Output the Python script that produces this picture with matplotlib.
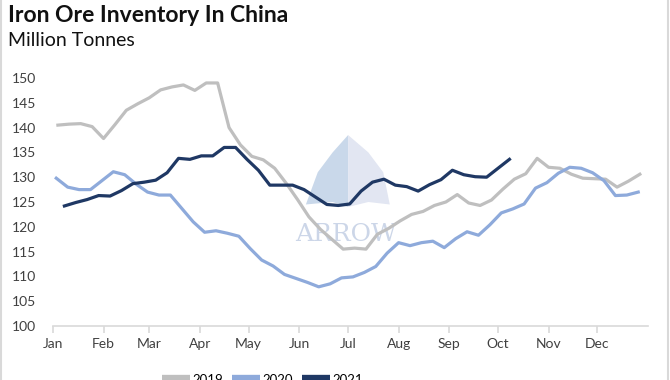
import numpy as np
import pandas as pd
import matplotlib
matplotlib.use("Agg")
import matplotlib.pyplot as plt
from matplotlib.patches import Polygon

plt.rcParams['font.family'] = ['Lato', 'DejaVu Sans']

# Weekly inventory (million tonnes)
inv_2019 = [140.5, 140.7, 140.8, 140.2, 137.8, 140.6, 143.5, 144.8, 146.0, 147.6,
            148.2, 148.6, 147.5, 149.0, 149.0, 140.0, 136.5, 134.2, 133.5, 131.8,
            128.8, 125.5, 122.0, 119.5, 117.5, 115.5, 115.7, 115.5, 118.5, 119.7,
            121.2, 122.5, 123.1, 124.3, 125.0, 126.5, 124.8, 124.3, 125.4, 127.6,
            129.6, 130.7, 133.8, 132.0, 131.8, 130.6, 129.8, 129.7, 129.6, 128.0,
            129.2, 130.6]
inv_2020 = [129.8, 128.0, 127.5, 127.5, 129.3, 131.1, 130.5, 128.6, 127.0, 126.4,
            126.4, 123.7, 121.0, 118.9, 119.2, 118.7, 118.1, 115.6, 113.3, 112.1,
            110.4, 109.6, 108.8, 107.9, 108.5, 109.7, 109.9, 110.8, 112.0, 114.7,
            116.8, 116.2, 116.8, 117.1, 115.8, 117.6, 119.0, 118.3, 120.4, 122.8,
            123.6, 124.6, 127.8, 128.9, 130.8, 132.0, 131.8, 130.9, 129.3, 126.3,
            126.4, 127.0]
inv_2021 = [124.2, 124.9, 125.5, 126.3, 126.2, 127.3, 128.7, 129.0, 129.4, 130.9,
            133.8, 133.6, 134.3, 134.3, 136.0, 136.0, 133.6, 131.4, 128.4, 128.4,
            128.4, 127.5, 126.0, 124.5, 124.3, 124.6, 127.2, 129.0, 129.6, 128.4,
            128.1, 127.2, 128.5, 129.5, 131.4, 130.5, 130.1, 130.0, 131.8, 133.6]

first_fridays = {'2019': '2019-01-04', '2020': '2020-01-03', '2021': '2021-01-08'}
series = {'2019': inv_2019, '2020': inv_2020, '2021': inv_2021}
colors = {'2019': '#BFBFBF', '2020': '#8EAADB', '2021': '#1F3864'}

months = ['Jan', 'Feb', 'Mar', 'Apr', 'May', 'Jun', 'Jul', 'Aug', 'Sep', 'Oct', 'Nov', 'Dec']
month_starts = pd.date_range('2021-01-01', periods=12, freq='MS').dayofyear - 1

fig = plt.figure(figsize=(6.7, 3.8), dpi=100)
ax = fig.add_axes([53 / 670, 1 - 326 / 380, 595 / 670, 248 / 380])

for year, vals in series.items():
    dates = pd.date_range(first_fridays[year], periods=len(vals), freq='7D')
    ax.plot(dates.dayofyear - 1, vals, color=colors[year], lw=2.3, label=year,
            solid_joinstyle='round', zorder=3)

ax.set_xlim(0, 365)
ax.set_ylim(100, 150)
ax.set_yticks(np.arange(100, 151, 5))
ax.set_xticks(month_starts)
ax.set_xticklabels(months)

for s in ['top', 'right', 'left']:
    ax.spines[s].set_visible(False)
ax.spines['bottom'].set_color('#D9D9D9')
ax.spines['bottom'].set_linewidth(1.2)
ax.tick_params(axis='x', length=5, width=1.2, color='#D9D9D9', pad=4,
               labelsize=10, labelcolor='#404040')
ax.tick_params(axis='y', length=0, pad=12, labelsize=10, labelcolor='#404040')

# watermark logo
tr = ax.transAxes
left = Polygon([(0.496, 0.770), (0.47, 0.70), (0.445, 0.62), (0.425, 0.49),
                (0.47, 0.50), (0.496, 0.48)], closed=True, transform=tr,
               facecolor='#C9D8EA', edgecolor='none', zorder=1)
right = Polygon([(0.496, 0.770), (0.53, 0.70), (0.555, 0.62), (0.566, 0.49),
                 (0.53, 0.50), (0.496, 0.48)], closed=True, transform=tr,
                facecolor='#E2E6F2', edgecolor='none', zorder=1)
ax.add_patch(left)
ax.add_patch(right)
ax.text(0.492, 0.37, 'ARROW', transform=tr, ha='center', va='center',
        fontsize=18, family='DejaVu Serif', color='#CCD6E8', zorder=1)

fig.text(8 / 670, 1 - 5 / 380, 'Iron Ore Inventory In China', ha='left', va='top',
         fontsize=16.5, fontweight='bold', color='#111111')
fig.text(8 / 670, 1 - 32 / 380, 'Million Tonnes', ha='left', va='top',
         fontsize=14, color='#111111')

leg = fig.legend(loc='center', bbox_to_anchor=(0.392, 1 - 380 / 380), ncol=3,
                 frameon=False, fontsize=9.5, handlelength=2.1, columnspacing=0.7,
                 handletextpad=0.2)
for line in leg.get_lines():
    line.set_linewidth(6)
    line.set_solid_capstyle('butt')

fig.add_artist(plt.Line2D([1 / 670, 1 / 670], [0, 1], color='#D9D9D9', lw=1.5))
fig.add_artist(plt.Line2D([668 / 670, 668 / 670], [0, 1], color='#D9D9D9', lw=1.5))

fig.savefig('out.png', dpi=100)
